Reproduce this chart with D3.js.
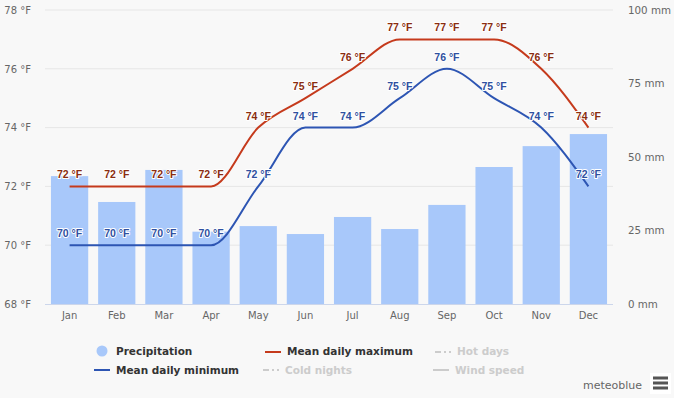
<!DOCTYPE html>
<html>
<head>
<meta charset="utf-8">
<script src="https://cdn.jsdelivr.net/npm/d3@7"></script>
<style>
  html, body { margin: 0; padding: 0; background: #f8f8f8; }
  svg { display: block; }
</style>
</head>
<body>
<div id="chart"></div>
<script>
const months = ["Jan","Feb","Mar","Apr","May","Jun","Jul","Aug","Sep","Oct","Nov","Dec"];
const precipitation = [43.5, 34.7, 45.6, 24.6, 26.5, 23.8, 29.6, 25.5, 33.7, 46.6, 53.7, 57.8];
const meanMax = [72, 72, 72, 72, 74, 75, 76, 77, 77, 77, 76, 74];
const meanMin = [70, 70, 70, 70, 72, 74, 74, 75, 76, 75, 74, 72];
const tempTicks = [68, 70, 72, 74, 76, 78];
const precipTicks = [0, 25, 50, 75, 100];

const W = 674, H = 398;
const svg = d3.select("#chart").append("svg").attr("width", W).attr("height", H);
svg.append("rect").attr("width", W).attr("height", H).attr("fill", "#f8f8f8");

const plotL = 45, plotR = 613, plotT = 10, plotB = 304;

const x = d3.scaleBand().domain(months).range([46, 612]).paddingInner(0.21).paddingOuter(0.105);
const yT = d3.scaleLinear().domain([68, 78]).range([plotB, plotT]);
const yP = d3.scaleLinear().domain([0, 100]).range([plotB, plotT]);

// gridlines
svg.append("g").selectAll("line").data(tempTicks.filter(t => t !== 68)).join("line")
  .attr("x1", plotL).attr("x2", plotR)
  .attr("y1", d => yT(d)).attr("y2", d => yT(d))
  .attr("stroke", "#e6e6e6").attr("stroke-width", 1);

// left axis
const leftAxis = d3.axisLeft(yT).tickValues(tempTicks).tickSize(0).tickPadding(0).tickFormat(d => d + " °F");
const gl = svg.append("g").attr("transform", "translate(31,0)").call(leftAxis);
gl.select(".domain").remove();
gl.selectAll("text").attr("font-family", "DejaVu Sans").attr("font-size", "10px").attr("fill", "#666");

// right axis
const rightAxis = d3.axisRight(yP).tickValues(precipTicks).tickSize(0).tickPadding(0).tickFormat(d => d + " mm");
const gr = svg.append("g").attr("transform", "translate(628,0)").call(rightAxis);
gr.select(".domain").remove();
gr.selectAll("text").attr("font-family", "DejaVu Sans").attr("font-size", "10.3px").attr("fill", "#666");

// bars
svg.append("g").selectAll("rect").data(months).join("rect")
  .attr("x", d => x(d)).attr("width", x.bandwidth())
  .attr("y", (d, i) => yP(precipitation[i]))
  .attr("height", (d, i) => plotB - yP(precipitation[i]))
  .attr("fill", "#a8c8fa");

// x axis
const xAxis = d3.axisBottom(x).tickSize(0).tickPadding(0);
const gx = svg.append("g").attr("transform", `translate(0,${plotB})`).call(xAxis);
gx.select(".domain").remove();
gx.selectAll("text").attr("font-family", "DejaVu Sans").attr("font-size", "10px").attr("fill", "#666").attr("dy", "1.1em").attr("y", 4);
svg.append("line").attr("x1", plotL).attr("x2", plotR).attr("y1", plotB + 0.5).attr("y2", plotB + 0.5)
  .attr("stroke", "#ccd6eb").attr("stroke-width", 1);

// lines
const cx = d => x(d) + x.bandwidth() / 2;
const line = (arr) => d3.line().curve(d3.curveMonotoneX).x((d, i) => cx(months[i])).y(d => yT(d))(arr);
svg.append("path").attr("d", line(meanMax)).attr("fill", "none").attr("stroke", "#c53a1c").attr("stroke-width", 2);
svg.append("path").attr("d", line(meanMin)).attr("fill", "none").attr("stroke", "#2d55b3").attr("stroke-width", 2);

// data labels
function labels(arr, color) {
  svg.append("g").selectAll("text").data(arr).join("text")
    .attr("x", (d, i) => cx(months[i]))
    .attr("y", d => yT(d) - 8)
    .attr("text-anchor", "middle")
    .attr("font-family", "Liberation Sans").attr("font-weight", "bold").attr("font-size", "10.5px")
    .attr("fill", color)
    .attr("stroke", "#ffffff").attr("stroke-width", 2).attr("stroke-linejoin", "round")
    .attr("paint-order", "stroke")
    .text(d => d + " °F");
}
labels(meanMax, "#8a2d10");
labels(meanMin, "#2f50a0");

// legend
const lg = svg.append("g").attr("font-family", "DejaVu Sans").attr("font-weight", "bold").attr("font-size", "10.5px");
lg.append("circle").attr("cx", 102).attr("cy", 351).attr("r", 5.5).attr("fill", "#a8c8fa");
lg.append("text").attr("x", 116).attr("y", 355).attr("fill", "#333").text("Precipitation");
lg.append("line").attr("x1", 94).attr("x2", 110).attr("y1", 370).attr("y2", 370).attr("stroke", "#2d55b3").attr("stroke-width", 2);
lg.append("text").attr("x", 116).attr("y", 374).attr("fill", "#333").text("Mean daily minimum");
lg.append("line").attr("x1", 265).attr("x2", 281).attr("y1", 352).attr("y2", 352).attr("stroke", "#c53a1c").attr("stroke-width", 2);
lg.append("text").attr("x", 287).attr("y", 355).attr("fill", "#333").text("Mean daily maximum");
lg.append("line").attr("x1", 435).attr("x2", 451).attr("y1", 352).attr("y2", 352).attr("stroke", "#ccc").attr("stroke-width", 2).attr("stroke-dasharray", "6,3,2,3");
lg.append("text").attr("x", 457).attr("y", 355).attr("fill", "#ccc").text("Hot days");
lg.append("line").attr("x1", 263).attr("x2", 279).attr("y1", 370).attr("y2", 370).attr("stroke", "#ccc").attr("stroke-width", 2).attr("stroke-dasharray", "6,3,2,3");
lg.append("text").attr("x", 285).attr("y", 374).attr("fill", "#ccc").text("Cold nights");
lg.append("line").attr("x1", 433).attr("x2", 449).attr("y1", 370).attr("y2", 370).attr("stroke", "#ccc").attr("stroke-width", 2);
lg.append("text").attr("x", 455).attr("y", 374).attr("fill", "#ccc").text("Wind speed");

// credits
svg.append("text").attr("x", 642).attr("y", 389).attr("text-anchor", "end")
  .attr("font-family", "DejaVu Sans").attr("font-size", "11px").attr("fill", "#666").text("meteoblue");
svg.append("rect").attr("x", 650).attr("y", 373).attr("width", 21).attr("height", 21).attr("fill", "#ffffff");
[378, 383, 388].forEach(yy => {
  svg.append("rect").attr("x", 653).attr("y", yy - 1.5).attr("width", 15).attr("height", 3).attr("fill", "#555");
});
</script>
</body>
</html>
